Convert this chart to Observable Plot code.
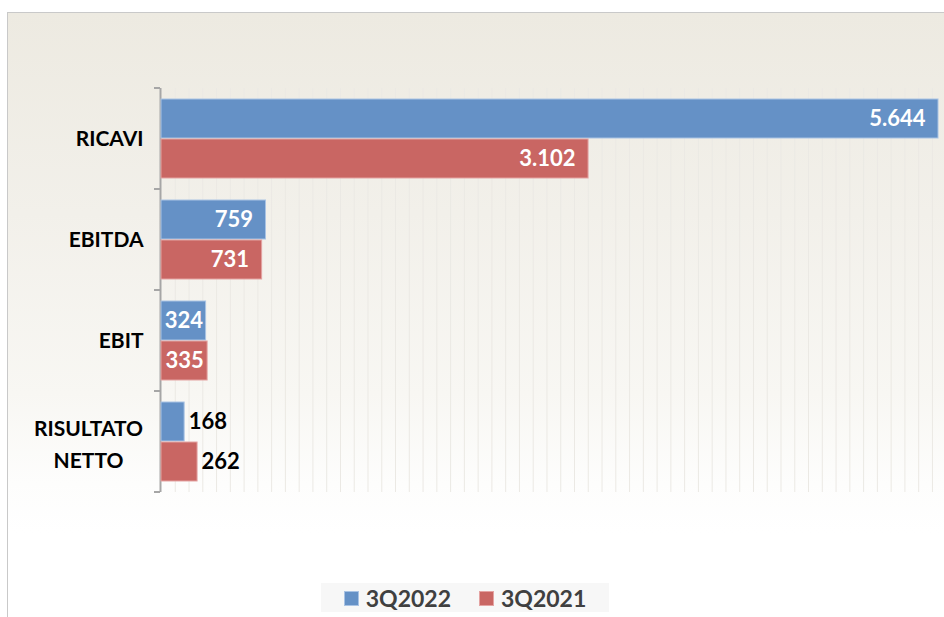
<!DOCTYPE html>
<html><head><meta charset="utf-8">
<script src="https://cdn.jsdelivr.net/npm/d3@7"></script>
<script src="https://cdn.jsdelivr.net/npm/@observablehq/plot@0.6"></script>
<style>
body{margin:0;background:#fff;font-family:Lato,"Open Sans",sans-serif;}
#wrap{position:relative;width:944px;height:617px;overflow:hidden;}
#panel{position:absolute;left:7px;top:12px;width:980px;height:660px;border:1.5px solid #c9c9c9;
  background:linear-gradient(#edeae1 0px,#f2f0ea 200px,#f8f7f3 380px,#fdfdfc 470px,#fff 520px);}
#chart{position:absolute;left:0;top:0;}
#legend{position:absolute;left:321px;top:583px;width:288px;height:29px;background:#f7f7f7;
  display:flex;align-items:center;justify-content:center;gap:28px;font:bold 23px Lato,sans-serif;color:#404040;}
.sw{display:inline-block;width:13px;height:13px;margin-right:7px;vertical-align:middle;position:relative;top:-2px;}
</style></head>
<body>
<div id="wrap"><div id="panel"></div><div id="chart"></div><div id="legend"></div></div>
<script>
const categories = ["RICAVI","EBITDA","EBIT","RISULTATO NETTO"];
const categoryLabels = ["RICAVI","EBITDA","EBIT","RISULTATO\nNETTO"];
const series = ["3Q2022","3Q2021"];
const values3Q2022 = [5644,759,324,168];
const values3Q2021 = [3102,731,335,262];
const labels3Q2022 = ["5.644","759","324","168"];
const labels3Q2021 = ["3.102","731","335","262"];
const gridTicks = d3.range(100, 5700, 100);

const fills = {"3Q2022":"#6591c6","3Q2021":"#c96663"};
const edges = {"3Q2022":"#a9c3e4","3Q2021":"#e4a3a2"};

const rows = [];
categories.forEach((c,i)=>{
  rows.push({category:c, series:"3Q2022", value:values3Q2022[i], label:labels3Q2022[i]});
  rows.push({category:c, series:"3Q2021", value:values3Q2021[i], label:labels3Q2021[i]});
});
const catRows = categories.map((c,i)=>({category:c, label:categoryLabels[i], multi:categoryLabels[i].includes("\n")}));

const endRows = rows.filter(d=>d.value>=500);
const midRows = rows.filter(d=>d.value>=300 && d.value<500);
const outRows = rows.filter(d=>d.value<300);

const font = "Lato, 'Open Sans', sans-serif";
const marks = [
  Plot.ruleX(gridTicks, {stroke:"#ebe9e4", strokeWidth:1}),
  Plot.ruleX([0], {stroke:"#a6a6a6", strokeWidth:2, dx:-1}),
  ...series.map(s => Plot.barX(rows.filter(d=>d.series===s), {
    fy:"category", y:"series", x:"value", fill:fills[s], stroke:edges[s], strokeWidth:1
  })),
  Plot.text(endRows, {fy:"category", y:"series", x:"value", text:"label", textAnchor:"end", dx:-13,
    fill:"white", fontWeight:"bold", fontSize:22, fontFamily:font}),
  Plot.text(midRows, {fy:"category", y:"series", x:d=>d.value/2, text:"label", textAnchor:"middle",
    fill:"white", fontWeight:"bold", fontSize:22, fontFamily:font}),
  Plot.text(outRows, {fy:"category", y:"series", x:"value", text:"label", textAnchor:"start", dx:4,
    fill:"black", fontWeight:"bold", fontSize:22, fontFamily:font}),
  Plot.text(catRows.filter(d=>!d.multi), {fy:"category", text:"label", frameAnchor:"left", textAnchor:"end", dx:-18,
    fill:"black", fontWeight:"bold", fontSize:21, fontFamily:font}),
  Plot.text(catRows.filter(d=>d.multi), {fy:"category", text:"label", frameAnchor:"left", textAnchor:"middle", dx:-73,
    lineHeight:1.5, fill:"black", fontWeight:"bold", fontSize:21, fontFamily:font})
];

const plot = Plot.plot({
  width:944, height:570,
  marginLeft:161, marginRight:6, marginTop:87, marginBottom:78,
  style:{background:"transparent", overflow:"visible"},
  x:{domain:[0,5644], axis:null},
  fy:{domain:categories, padding:0, axis:null},
  y:{domain:series, paddingInner:0.024, paddingOuter:0.244, axis:null},
  marks
});
// boundary tick marks on the category axis, placed with the fy scale
const fy = plot.scale("fy");
const bounds = categories.map(c=>fy.apply(c));
bounds.push(fy.apply(categories[categories.length-1]) + fy.bandwidth);
const x0 = plot.scale("x").apply(0);
d3.select(plot).append("g").selectAll("line").data(bounds).join("line")
  .attr("x1", x0-7).attr("x2", x0-1).attr("y1", d=>d).attr("y2", d=>d)
  .attr("stroke","#a6a6a6").attr("stroke-width",2);
document.getElementById("chart").append(plot);

const legend = document.getElementById("legend");
series.forEach(s=>{
  const item = document.createElement("span");
  item.innerHTML = `<span class="sw" style="background:${fills[s]};border:1px solid ${edges[s]}"></span>${s}`;
  legend.append(item);
});
</script>
</body></html>
